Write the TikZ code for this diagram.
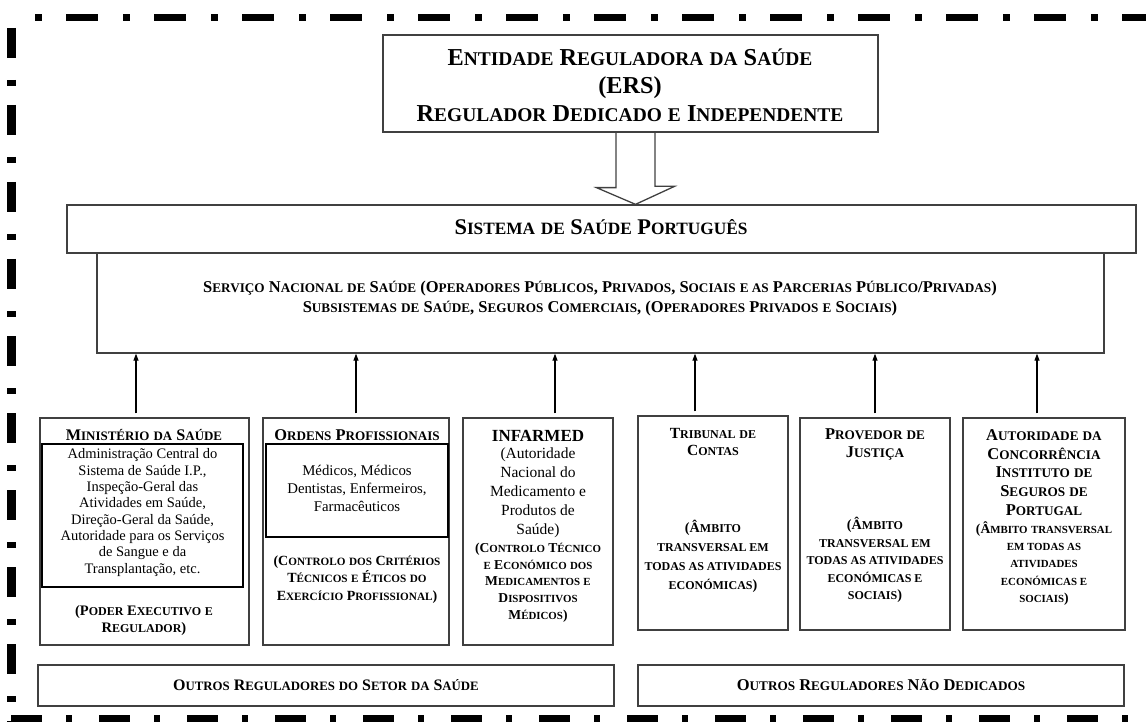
\documentclass[tikz,border=0pt]{standalone}
\usepackage{fontspec}
\setmainfont{Liberation Serif}
\usepackage{relsize}
\usetikzlibrary{arrows.meta,calc}
\newcommand\scw[2]{#1\textscale{0.8}{#2}}
\newcommand\scs[1]{\textscale{0.8}{#1}}
\newcommand\fsz[2]{\fontsize{#1}{#2}\selectfont}
\definecolor{boxgray}{HTML}{404040}
\begin{document}
\begin{tikzpicture}[x=1pt,y=-1pt,
  box/.style={draw=boxgray, line width=1.3pt, inner sep=0pt, rectangle},
  inbox/.style={draw=black, line width=1.1pt, inner sep=0pt, rectangle},
  txt/.style={align=center, inner sep=0pt, text=black},
  up/.style={-{Triangle[length=7pt,width=5pt]}, line width=1.1pt, draw=black, shorten <=4pt},
  hollow/.style={draw=boxgray, line width=1.3pt, line join=miter},
  frame/.style={draw=black}]
\useasboundingbox (0,0) rectangle (1146,722);
% dashed frame
\draw[frame, line width=7pt, dash pattern=on 7pt off 24pt on 32pt off 25pt] (35,17.5) -- (1150,17.5);
\draw[frame, line width=9pt, dash pattern=on 30pt off 22pt on 6pt off 19pt] (11.5,28) -- (11.5,722);
\draw[frame, line width=9pt, dash pattern=on 31pt off 24pt on 6pt off 27pt] (11,719) -- (1150,719);

% boxes
\node[box, minimum width=495, minimum height=97] (ers) at (630.5,83.5) {};
\node[box, minimum width=1069, minimum height=48] (sys) at (601.5,229) {};
\node[box, minimum width=1007, minimum height=100] (svc) at (600.5,303) {};
\node[box, minimum width=209, minimum height=227] (min) at (144.5,531.5) {};
\node[inbox, minimum width=201, minimum height=143] (minin) at (142.5,515.5) {};
\node[box, minimum width=186, minimum height=227] (ord) at (356,531.5) {};
\node[inbox, minimum width=182, minimum height=93] (ordin) at (357,490.5) {};
\node[box, minimum width=150, minimum height=227] (inf) at (538,531.5) {};
\node[box, minimum width=150, minimum height=214] (tri) at (713,523) {};
\node[box, minimum width=150, minimum height=212] (pro) at (875,524) {};
\node[box, minimum width=162, minimum height=212] (aut) at (1044,524) {};
\node[box, minimum width=576, minimum height=41] (out1) at (326,685.5) {};
\node[box, minimum width=486, minimum height=41] (out2) at (881,685.5) {};

% hollow arrow
\coordinate (bx) at (635.5,0);
\draw[hollow] ($(ers.south -| bx)+(-19.5,0)$) -- ++(0,55) -- ++(-19.5,0) -- (sys.north -| bx) -- ++(39,-18) -- ++(-19.5,0) -- ($(ers.south -| bx)+(19.5,0)$);

% up arrows
\draw[up] ([xshift=-8.5pt]min.north) -- ([xshift=-8.5pt]min.north |- svc.south);
\draw[up] (ord.north) -- (ord.north |- svc.south);
\draw[up] ([xshift=17pt]inf.north) -- ([xshift=17pt]inf.north |- svc.south);
\draw[up] ([xshift=-18pt]tri.north) -- ([xshift=-18pt]tri.north |- svc.south);
\draw[up] (pro.north) -- (pro.north |- svc.south);
\draw[up] ([xshift=-7pt]aut.north) -- ([xshift=-7pt]aut.north |- svc.south);

% texts
\node[txt, font=\bfseries\fsz{24.3}{28}] (ersT) at (630,85) {\scw{E}{NTIDADE} \scw{R}{EGULADORA} \scs{DA} \scw{S}{AÚDE}\\(ERS)\\\scw{R}{EGULADOR} \scw{D}{EDICADO} \scs{E} \scw{I}{NDEPENDENTE}};
\node[txt, font=\bfseries\fsz{22.4}{24}] (sysT) at (601,227) {\scw{S}{ISTEMA} \scs{DE} \scw{S}{AÚDE} \scw{P}{ORTUGUÊS}};
\node[txt, font=\bfseries\fsz{16.5}{20}] (svcT) at (600,299) {\scw{S}{ERVIÇO} \scw{N}{ACIONAL} \scs{DE} \scw{S}{AÚDE} (\scw{O}{PERADORES} \scw{P}{ÚBLICOS}, \scw{P}{RIVADOS}, \scw{S}{OCIAIS} \scs{E AS} \scw{P}{ARCERIAS} \scw{P}{ÚBLICO}/\scw{P}{RIVADAS})\\\scw{S}{UBSISTEMAS} \scs{DE} \scw{S}{AÚDE}, \scw{S}{EGUROS} \scw{C}{OMERCIAIS}, (\scw{O}{PERADORES} \scw{P}{RIVADOS} \scs{E} \scw{S}{OCIAIS})};

\node[txt, font=\bfseries\fsz{16.2}{18}] (minT) at (144,435) {\scw{M}{INISTÉRIO} \scs{DA} \scw{S}{AÚDE}};
\node[txt, font=\fsz{14.5}{16.3}] (minB) at (142.5,512.5) {Administração Central do\\Sistema de Saúde I.P.,\\Inspeção-Geral das\\Atividades em Saúde,\\Direção-Geral da Saúde,\\Autoridade para os Serviços\\de Sangue e da\\Transplantação, etc.};
\node[txt, font=\bfseries\fsz{14.5}{17}] (minN) at (144,620.5) {(\scw{P}{ODER} \scw{E}{XECUTIVO} \scs{E}\\\scw{R}{EGULADOR})};

\node[txt, font=\bfseries\fsz{16.4}{18}] (ordT) at (357,435) {\scw{O}{RDENS} \scw{P}{ROFISSIONAIS}};
\node[txt, font=\fsz{14.8}{18}] (ordB) at (357,488) {Médicos, Médicos\\Dentistas, Enfermeiros,\\Farmacêuticos};
\node[txt, font=\bfseries\fsz{14}{17.5}] (ordN) at (357,579.5) {(\scw{C}{ONTROLO} \scs{DOS} \scw{C}{RITÉRIOS}\\\scw{T}{ÉCNICOS} \scs{E} \scw{É}{TICOS} \scs{DO}\\\scw{E}{XERCÍCIO} \scw{P}{ROFISSIONAL})};

\node[txt, font=\bfseries\fsz{17}{20}] (infT) at (538,436) {INFARMED};
\node[txt, font=\fsz{15.5}{19}] (infB) at (538,493) {(Autoridade\\Nacional do\\Medicamento e\\Produtos de\\Saúde)};
\node[txt, font=\bfseries\fsz{13.6}{16.75}] (infN) at (538,582.5) {(\scw{C}{ONTROLO} \scw{T}{ÉCNICO}\\\scs{E} \scw{E}{CONÓMICO} \scs{DOS}\\\scw{M}{EDICAMENTOS} \scs{E}\\\scw{D}{ISPOSITIVOS}\\\scw{M}{ÉDICOS})};

\node[txt, font=\bfseries\fsz{15.5}{17}] (triT) at (713,441.5) {\scw{T}{RIBUNAL} \scs{DE}\\\scw{C}{ONTAS}};
\node[txt, font=\bfseries\fsz{14.2}{19}] (triN) at (713,556.5) {(\scw{Â}{MBITO}\\\scs{TRANSVERSAL EM}\\\scs{TODAS AS ATIVIDADES}\\\scs{ECONÓMICAS})};

\node[txt, font=\bfseries\fsz{16.5}{18}] (proT) at (875,444) {\scw{P}{ROVEDOR} \scs{DE}\\\scw{J}{USTIÇA}};
\node[txt, font=\bfseries\fsz{14.2}{17.5}] (proN) at (875,560) {(\scw{Â}{MBITO}\\\scs{TRANSVERSAL EM}\\\scs{TODAS AS ATIVIDADES}\\\scs{ECONÓMICAS E}\\\scs{SOCIAIS})};

\node[txt, font=\bfseries\fsz{16.5}{18.75}] (autT) at (1044,472.5) {\scw{A}{UTORIDADE} \scs{DA}\\\scw{C}{ONCORRÊNCIA}\\\scw{I}{NSTITUTO} \scs{DE}\\\scw{S}{EGUROS} \scs{DE}\\\scw{P}{ORTUGAL}};
\node[txt, font=\bfseries\fsz{13.6}{17.25}] (autN) at (1044,563.5) {(\scw{Â}{MBITO} \scs{TRANSVERSAL}\\\scs{EM TODAS AS}\\\scs{ATIVIDADES}\\\scs{ECONÓMICAS E}\\\scs{SOCIAIS})};

\node[txt, font=\bfseries\fsz{16}{16}] (out1T) at (326,685) {\scw{O}{UTROS} \scw{R}{EGULADORES} \scs{DO} \scw{S}{ETOR} \scs{DA} \scw{S}{AÚDE}};
\node[txt, font=\bfseries\fsz{16.5}{16}] (out2T) at (881,685) {\scw{O}{UTROS} \scw{R}{EGULADORES} \scw{N}{ÃO} \scw{D}{EDICADOS}};
\end{tikzpicture}
\end{document}
